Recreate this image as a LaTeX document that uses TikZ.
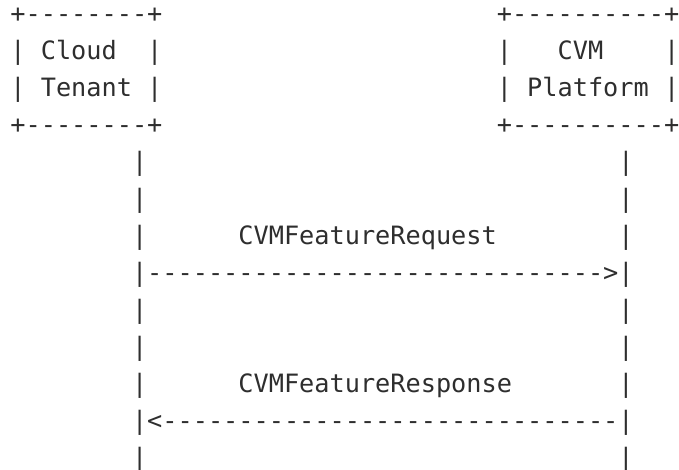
\documentclass[tikz,border=0pt]{standalone}
\usepackage{fontspec}
\newfontfamily\asciifont{DejaVu Sans Mono}
\definecolor{ink}{HTML}{2E2E2E}
\tikzset{
  asc/.style={anchor=base west, inner sep=0pt, outer sep=0pt, text=ink,
    font=\asciifont\fontsize{25.25}{30}\selectfont}
}
\begin{document}
\begin{tikzpicture}[x=1pt,y=1pt]
\useasboundingbox (0,0) rectangle (679,470);
% Cloud Tenant box (col 0)
\node[asc] (tA) at (10.4,447) {+--------+};
\node[asc] (tB) at (10.4,410) {| Cloud~~|};
\node[asc] (tC) at (10.4,373) {| Tenant |};
\node[asc] (tD) at (10.4,336) {+--------+};
% CVM Platform box (col 32)
\node[asc] (pA) at (496.8,447) {+----------+};
\node[asc] (pB) at (496.8,410) {|~~~CVM~~~~|};
\node[asc] (pC) at (496.8,373) {| Platform |};
\node[asc] (pD) at (496.8,336) {+----------+};
% lifelines (col 8 and col 40)
\foreach \yy/\nm in {299/4,262/5,225/6,151/8,114/9,77/10,3/12}{
  \node[asc] (l\nm) at (132.0,\yy) {|};
  \node[asc] (r\nm) at (618.4,\yy) {|};
}
% request
\node[asc] (reqlabel) at (238.4,225) {CVMFeatureRequest};
\node[asc] (reqarrow) at (132.0,188) {|------------------------------>|};
% response
\node[asc] (reslabel) at (238.4,77) {CVMFeatureResponse};
\node[asc] (resarrow) at (132.0,40) {|<------------------------------|};
\end{tikzpicture}
\end{document}
